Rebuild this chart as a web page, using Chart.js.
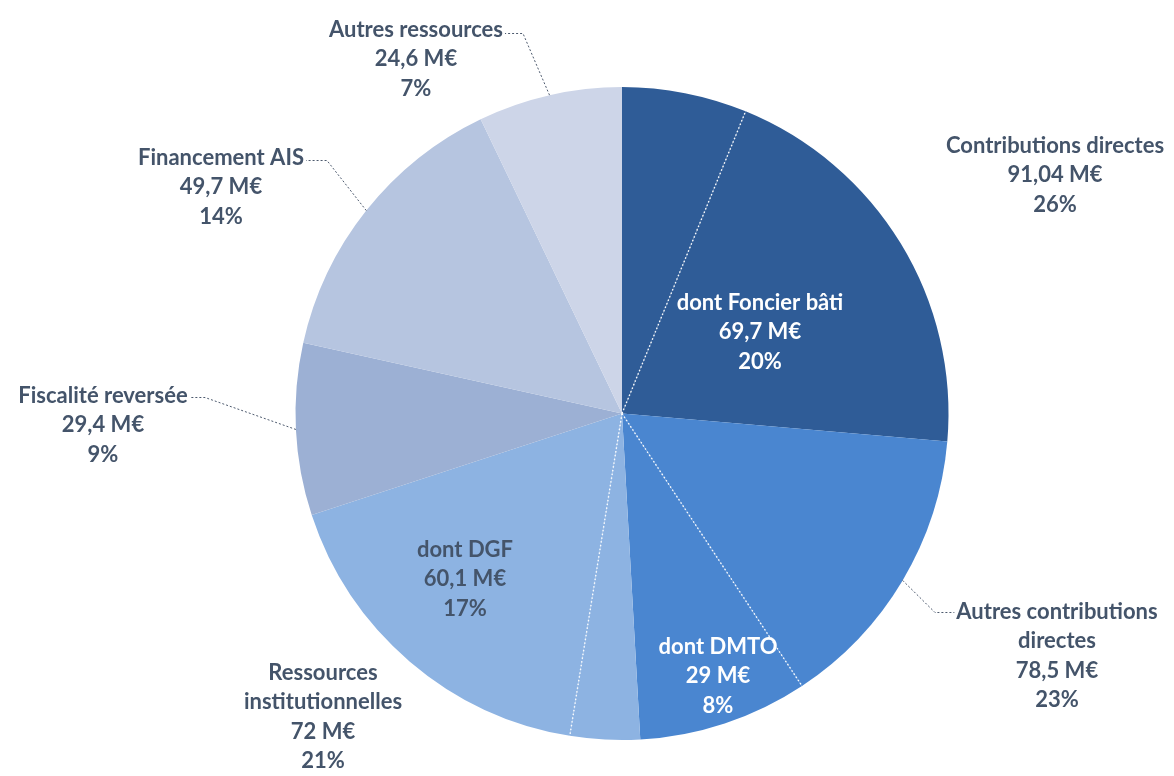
<!DOCTYPE html>
<html><head><meta charset="utf-8">
<script src="https://cdn.jsdelivr.net/npm/chart.js@4/dist/chart.umd.min.js"></script>
<style>html,body{margin:0;padding:0;background:#fff}canvas{display:block}</style>
</head><body><canvas id="c" width="1174" height="776"></canvas>
<script>
// ---- data ----
const sliceNames = ['Contributions directes (reste)', 'dont Foncier bâti', 'Autres contributions directes (reste)', 'dont DMTO',
  'Ressources institutionnelles (reste)', 'dont DGF', 'Fiscalité reversée', 'Financement AIS', 'Autres ressources'];
const sliceValues = [21.34, 69.7, 49.5, 29, 11.9, 60.1, 29.4, 49.7, 24.6];
const subSliceStarts = [1, 3, 5]; // slices separated from their group by a dotted line

const labelContrib = ['Contributions directes', '91,04 M€', '26%'];
const labelFoncier = ['dont Foncier bâti', '69,7 M€', '20%'];
const labelAutresContrib = ['Autres contributions', 'directes', '78,5 M€', '23%'];
const labelDMTO = ['dont DMTO', '29 M€', '8%'];
const labelDGF = ['dont DGF', '60,1 M€', '17%'];
const labelRessInst = ['Ressources', 'institutionnelles', '72 M€', '21%'];
const labelFiscalite = ['Fiscalité reversée', '29,4 M€', '9%'];
const labelAIS = ['Financement AIS', '49,7 M€', '14%'];
const labelAutresRess = ['Autres ressources', '24,6 M€', '7%'];

// ---- styles ----
const sliceColors = ['#2f5c97', '#2f5c97', '#4a86d0', '#4a86d0', '#8db3e2', '#8db3e2', '#9cb0d4', '#b6c5e0', '#cdd5e8'];
const darkText = '#44546a';
const FONT = 'bold 22px Lato, "Open Sans", sans-serif';
const LINE_H = 29.5;

// label placement relative to pie centre (px at radius 326.5); leader: slice index + elbow
const labelSpecs = [
  { lines: labelAutresRess, dx: -206, dy: -384, color: darkText, leader: { slice: 8, ex: -99, ey: -380, side: 'right' } },
  { lines: labelContrib, dx: 433, dy: -268, color: darkText },
  { lines: labelFoncier, dx: 138, dy: -111, color: '#ffffff' },
  { lines: labelAutresContrib, dx: 435, dy: 198, color: darkText, leader: { slice: 2, ex: 313, ey: 199, side: 'left' } },
  { lines: labelDMTO, dx: 96, dy: 233, color: '#ffffff' },
  { lines: labelDGF, dx: -157, dy: 136, color: darkText },
  { lines: labelRessInst, dx: -299, dy: 259, color: darkText },
  { lines: labelFiscalite, dx: -519, dy: -18, color: darkText, leader: { slice: 6, ex: -417, ey: -16, side: 'right' } },
  { lines: labelAIS, dx: -401, dy: -256, color: darkText, leader: { slice: 7, ex: -295, ey: -253, side: 'right' } },
];

const decorPlugin = {
  id: 'decor',
  afterDatasetsDraw(chart) {
    const ctx = chart.ctx;
    const arcs = chart.getDatasetMeta(0).data;
    const cx = arcs[0].x, cy = arcs[0].y, R = arcs[0].outerRadius;
    const k = R / 326.5;
    ctx.save();
    // dotted separators
    ctx.strokeStyle = 'rgba(255,255,255,0.95)';
    ctx.lineWidth = 1.4;
    ctx.setLineDash([1.6, 2.2]);
    subSliceStarts.forEach(i => {
      const a = arcs[i].startAngle;
      ctx.beginPath();
      ctx.moveTo(cx, cy);
      ctx.lineTo(cx + Math.cos(a) * R, cy + Math.sin(a) * R);
      ctx.stroke();
    });
    // labels
    ctx.font = FONT;
    ctx.textAlign = 'center';
    ctx.textBaseline = 'middle';
    labelSpecs.forEach(s => {
      const x = cx + s.dx * k, y0 = cy + s.dy * k;
      ctx.fillStyle = s.color;
      s.lines.forEach((t, j) => ctx.fillText(t, x, y0 + j * LINE_H));
      if (s.leader) {
        const arc = arcs[s.leader.slice];
        const a = (arc.startAngle + arc.endAngle) / 2;
        const px = cx + Math.cos(a) * R, py = cy + Math.sin(a) * R;
        const exx = cx + s.leader.ex * k, eyy = cy + s.leader.ey * k;
        const w = ctx.measureText(s.lines[0]).width;
        const tx = s.leader.side === 'right' ? x + w / 2 + 2 : x - w / 2 - 2;
        ctx.save();
        ctx.strokeStyle = '#4d5a6e';
        ctx.lineWidth = 1;
        ctx.setLineDash([2, 2]);
        ctx.beginPath();
        ctx.moveTo(px, py);
        ctx.lineTo(exx, eyy);
        ctx.lineTo(tx, eyy);
        ctx.stroke();
        ctx.restore();
      }
    });
    ctx.restore();
  }
};

new Chart(document.getElementById('c'), {
  type: 'pie',
  data: {
    labels: sliceNames,
    datasets: [{ data: sliceValues, backgroundColor: sliceColors, borderWidth: 0, hoverOffset: 0 }]
  },
  options: {
    responsive: false,
    animation: false,
    layout: { padding: { left: 295, right: 225, top: 87, bottom: 36 } },
    plugins: { legend: { display: false }, tooltip: { enabled: false } }
  },
  plugins: [decorPlugin]
});
</script>
</body></html>
